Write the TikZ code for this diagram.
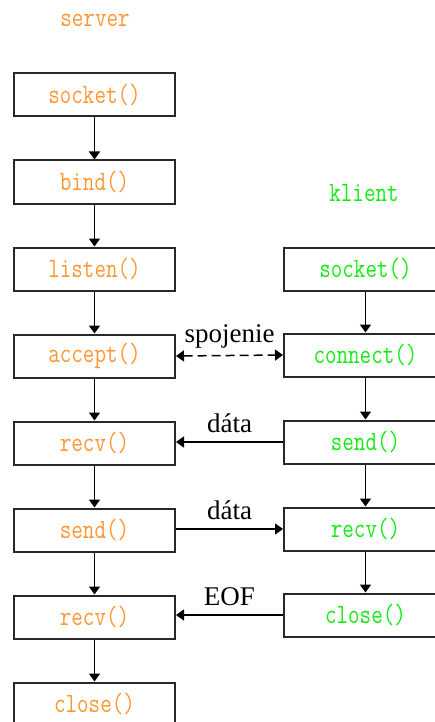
\documentclass[tikz,border=0pt]{standalone}
\usepackage{fontspec}
\usepackage{graphicx}
\setmainfont{Liberation Serif}
\usetikzlibrary{arrows.meta}
\definecolor{srvorange}{RGB}{255,150,50}
\definecolor{clgreen}{RGB}{20,235,20}
\definecolor{boxline}{RGB}{40,40,40}
\newcommand{\blbl}[1]{\scalebox{0.8}[1]{\fontsize{28}{28}\selectfont\ttfamily #1}}
\tikzset{
  fnbox/.style={draw=boxline, line width=2pt, minimum width=161pt, minimum height=43pt, inner sep=0pt},
  srv/.style={fnbox, text=srvorange},
  cli/.style={fnbox, minimum width=163pt, text=clgreen},
  flow/.style={line width=1.5pt, -{Triangle[length=8pt,width=11pt]}},
  msg/.style={line width=1.5pt, -{Triangle[length=8pt,width=11pt]}},
  lbl/.style={font=\fontsize{27}{27}\selectfont, inner sep=0pt, text=black},
}
\begin{document}
\begin{tikzpicture}[x=1pt,y=-1pt]
\useasboundingbox (0,0) rectangle (435,722);
\clip (0,0) rectangle (435,722);
% headers
\node[text=srvorange] (hs) at (95,20) {\blbl{server}};
\node[text=clgreen] (hc) at (364,193) {\blbl{klient}};
% server
\node[srv] (s1) at (94.5,95) {\blbl{socket()}};
\node[srv] (s2) at (94.5,182) {\blbl{bind()}};
\node[srv] (s3) at (94.5,269) {\blbl{listen()}};
\node[srv] (s4) at (94.5,356) {\blbl{accept()}};
\node[srv] (s5) at (94.5,443) {\blbl{recv()}};
\node[srv] (s6) at (94.5,530) {\blbl{send()}};
\node[srv] (s7) at (94.5,617) {\blbl{recv()}};
\node[srv] (s8) at (94.5,704) {\blbl{close()}};
% client
\node[cli] (c1) at (365.5,269) {\blbl{socket()}};
\node[cli] (c2) at (365.5,355) {\blbl{connect()}};
\node[cli] (c3) at (365.5,442) {\blbl{send()}};
\node[cli] (c4) at (365.5,529) {\blbl{recv()}};
\node[cli] (c5) at (365.5,615) {\blbl{close()}};
% vertical flow
\foreach \a/\b in {s1/s2,s2/s3,s3/s4,s4/s5,s5/s6,s6/s7,s7/s8,c1/c2,c2/c3,c3/c4,c4/c5}
  \draw[flow] (\a.south) -- (\b.north);
% messages
\draw[line width=1.5pt, {Triangle[length=8pt,width=11pt]}-{Triangle[length=8pt,width=11pt]}, dash pattern=on 9pt off 5pt] (s4.east) -- (c2.west)
  node[lbl, midway, above=7pt] (l1) {spojenie};
\draw[msg] (c3.west) -- (s5.east |- c3.west)
  node[lbl, midway, above=8pt] (l2) {dáta};
\draw[msg] (s6.east |- c4.west) -- (c4.west)
  node[lbl, midway, above=8pt] (l3) {dáta};
\draw[msg] (c5.west) -- (s7.east |- c5.west)
  node[lbl, midway, above=8pt] (l4) {EOF};
\end{tikzpicture}
\end{document}
